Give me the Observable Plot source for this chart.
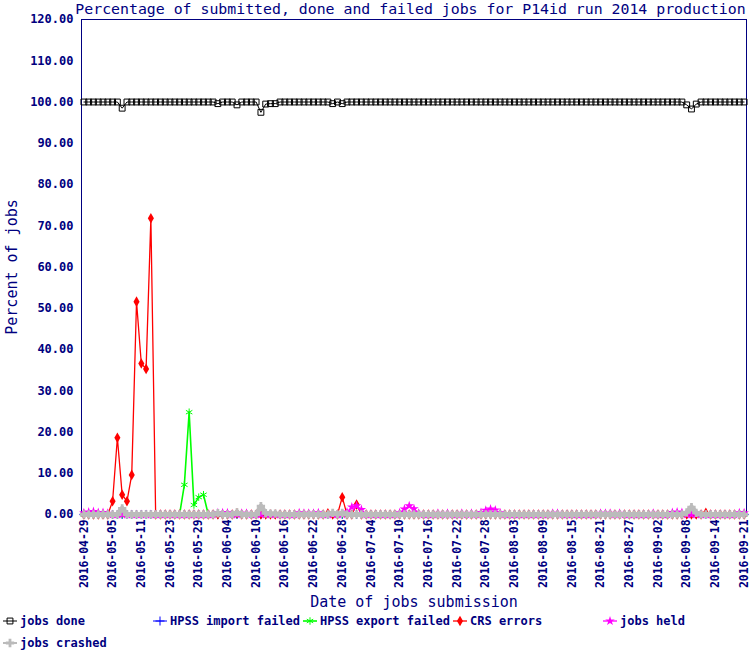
<!DOCTYPE html>
<html><head><meta charset="utf-8">
<script src="https://cdn.jsdelivr.net/npm/d3@7"></script>
<script src="https://cdn.jsdelivr.net/npm/@observablehq/plot@0.6"></script>
<style>
body{margin:0;background:#fff;font-family:"DejaVu Sans Mono",monospace;color:#000080;}
#wrap{width:750px;height:650px;position:relative;overflow:hidden;background:#fff}
#title{height:18px;line-height:18px;font-size:14.85px;margin-left:72px;width:677px;text-align:center;white-space:nowrap}
#legend{position:relative;height:40px}
.item{position:absolute;font-size:12px;font-weight:bold;line-height:22px;height:22px;white-space:nowrap;display:flex;align-items:center}
.item svg{margin-right:3px}
</style></head>
<body><div id="wrap"><div id="title">Percentage of submitted, done and failed jobs for P14id run 2014 production</div><div id="chart"></div><div id="legend"></div></div>
<script>
const tickIdx = [0,6,12,18,24,30,36,42,48,54,60,66,72,78,84,90,96,102,108,114,120,126,132,138];
const tickLabels = ["2016-04-29","2016-05-05","2016-05-11","2016-05-23","2016-05-29","2016-06-04","2016-06-10","2016-06-16","2016-06-22","2016-06-28","2016-07-04","2016-07-10","2016-07-16","2016-07-22","2016-07-28","2016-08-03","2016-08-09","2016-08-15","2016-08-21","2016-08-27","2016-09-02","2016-09-08","2016-09-14","2016-09-21"];
const yTicks = [0,10,20,30,40,50,60,70,80,90,100,110,120];

const jobsDone = [
100,100,100,100,100,100,100,100,98.5,100,
100,100,100,100,100,100,100,100,100,100,
100,100,100,100,100,100,100,100,99.6,100,
100,100,99.3,100,100,100,100,97.5,99.5,99.6,
99.6,100,100,100,100,100,100,100,100,100,
100,100,99.6,100,99.6,100,100,100,100,100,
100,100,100,100,100,100,100,100,100,100,
100,100,100,100,100,100,100,100,100,100,
100,100,100,100,100,100,100,100,100,100,
100,100,100,100,100,100,100,100,100,100,
100,100,100,100,100,100,100,100,100,100,
100,100,100,100,100,100,100,100,100,100,
100,100,100,100,100,100,99.3,98.3,99.5,100,
100,100,100,100,100,100,100,100,100];
const hpssImport = [
0,0,0,0,0,0,0,0,0,0, 0,0,0,0,0,0,0,0,0,0,
0,0,0,0,0,0,0,0,0,0, 0,0,0,0,0,0,0,0,0,0,
0,0,0,0,0,0,0,0,0,0, 0,0,0,0,0,0,0,0,0,0,
0,0,0,0,0,0,0,0,0,0, 0,0,0,0,0,0,0,0,0,0,
0,0,0,0,0,0,0,0,0,0, 0,0,0,0,0,0,0,0,0,0,
0,0,0,0,0,0,0,0,0,0, 0,0,0,0,0,0,0,0,0,0,
0,0,0,0,0,0,0,0,0,0, 0,0,0,0,0,0,0,0,0];
const hpssExport = [
0,0,0,0,0,0,0,0,0,0, 0,0,0,0,0,0,0,0,0,0,
0,7.2,24.8,2.3,4.2,4.8,0,0,0,0, 0,0,0,0,0,0,0,0,0,0,
0,0,0,0,0,0,0,0,0,0, 0,0,0,0,0,0,0,0,0,0,
0,0,0,0,0,0,0,0,0,0, 0,0,0,0,0,0,0,0,0,0,
0,0,0,0,0,0,0,0,0,0, 0,0,0,0,0,0,0,0,0,0,
0,0,0,0,0,0,0,0,0,0, 0,0,0,0,0,0,0,0,0,0,
0,0,0,0,0,0,0,0,0,0, 0,0,0,0,0,0,0,0,0];
const crsErrors = [
0,0,0,0,0,0,3.2,18.6,4.8,3.2, 9.6,51.6,36.6,35.3,71.8,0,0,0,0,0,
0,0,0,0,0,0,0,0,0,0, 0,0,0.3,0,0,0,0,0,0,0,
0,0,0,0,0,0,0,0,0,0, 0,0.3,0,0,4.2,0,0,2.4,0,0,
0,0,0,0,0,0,0,0,0,0, 0,0,0,0,0,0,0,0,0,0,
0,0,0,0,0,0,0,0,0,0, 0,0,0,0,0,0,0,0,0,0,
0,0,0,0,0,0,0,0,0,0, 0,0,0,0,0,0,0,0,0,0,
0,0,0,0,0,0,0,0,0,0, 0.4,0,0,0,0,0,0,0,0];
const jobsHeld = [
0.4,0.6,0.7,0.5,0.5,0.3,0,0,0,0, 0,0,0,0,0,0,0,0,0,0,
0,0,0,0,0,0,0,0,0.4,0.4, 0.4,0,0,0.3,0.3,0,0,0,0,0,
0,0,0,0,0,0.4,0.3,0.3,0.3,0.4, 0,0,0,0,0,0.6,1.8,2.1,1.2,0,
0,0,0,0,0,0,0.4,1.3,2.1,1.4, 0.3,0,0,0,0.3,0,0.3,0,0,0.3,
0,0.3,0,0.5,1.0,1.3,1.1,0.4,0,0, 0,0,0,0,0,0,0,0,0.3,0.3,
0,0,0,0,0,0,0,0,0.3,0.3, 0.3,0,0.3,0,0,0,0,0,0,0.3,
0,0,0,0.5,0.6,0.5,0,0,0,0, 0,0,0,0,0,0,0,0.4,0.4];
const jobsCrashed = [
0,0,0,0,0,0,0,0,1.5,0, 0,0,0,0,0,0,0,0,0,0,
0,0,0,0,0,0,0,0,0.3,0, 0,0,0.5,0,0,0,0,2.0,0.3,0.2,
0.2,0,0,0,0,0,0,0,0,0, 0,0,0.4,0,0.4,0,0,0,0,0,
0,0,0,0,0,0,0,0,0,0, 0,0,0,0,0,0,0,0,0,0,
0,0,0,0,0,0,0,0,0,0, 0,0,0,0,0,0,0,0,0,0,
0,0,0,0,0,0,0,0,0,0, 0,0,0,0,0,0,0,0,0,0,
0,0,0,0,0,0,0.5,1.8,0.4,0, 0,0,0,0,0,0,0,0,0];

const NAVY = "#000080";
const series = [
  {name: "jobs done", data: jobsDone, color: "#000000", symbol: "square", fill: "none", r: 3.3, sw: 1, lw: 1},
  {name: "HPSS import failed", data: hpssImport, color: "#0000ff", symbol: "plus", fill: "none", r: 3, sw: 1, lw: 1},
  {name: "HPSS export failed", data: hpssExport, color: "#00ff00", symbol: "asterisk", fill: "none", r: 3.5, sw: 1, lw: 1.6},
  {name: "CRS errors", data: crsErrors, color: "#ff0000", symbol: "diamond", fill: "#ff0000", r: 3.2, sw: 0, lw: 1.3},
  {name: "jobs held", data: jobsHeld, color: "#ff00ff", symbol: "star", fill: "#ff00ff", r: 3, sw: 0, lw: 1.3},
  {name: "jobs crashed", data: jobsCrashed, color: "#bbbbbb", symbol: "cross", fill: "#bbbbbb", r: 3.5, sw: 0, lw: 5}
];

const marks = [Plot.frame({stroke: NAVY})];
for (const s of series) {
  marks.push(Plot.line(s.data, {x: (d, i) => i, y: d => d, stroke: s.color, strokeWidth: s.lw, curve: "linear"}));
  marks.push(Plot.dot(s.data, {x: (d, i) => i, y: d => d, symbol: s.symbol, r: s.r,
    stroke: s.fill === "none" ? s.color : "none", fill: s.fill, strokeWidth: s.sw || 1}));
}
marks.push(
  Plot.axisY({ticks: yTicks, tickFormat: d => d.toFixed(2), tickSize: 0, tickPadding: 8, fontSize: 12, fontWeight: "bold", fill: NAVY, label: null}),
  Plot.axisY({ticks: [], tickSize: 0, label: "Percent of jobs", labelAnchor: "center", labelArrow: "none", labelOffset: 75, fontSize: 15, fill: NAVY}),
  Plot.axisX({ticks: tickIdx, tickFormat: d => tickLabels[tickIdx.indexOf(d)], tickRotate: -90, textAnchor: "end", tickSize: 0, tickPadding: 5, fontSize: 11.4, fontWeight: "bold", fill: NAVY, label: null}),
  Plot.axisX({ticks: [], tickSize: 0, label: "Date of jobs submission", labelAnchor: "center", labelArrow: "none", labelOffset: 92, fontSize: 15, fill: NAVY})
);

const chart = Plot.plot({
  width: 750, height: 592,
  marginTop: 1, marginBottom: 96, marginLeft: 81, marginRight: 4,
  x: {type: "linear", domain: [-0.5, 138.5]},
  y: {domain: [0, 120]},
  style: {fontFamily: "DejaVu Sans Mono", overflow: "visible", background: "white"},
  marks
});
document.getElementById("chart").appendChild(chart);

// legend
const legend = document.getElementById("legend");
const symMap = {square: d3.symbolSquare, plus: d3.symbolPlus, asterisk: d3.symbolAsterisk, diamond: d3.symbolDiamond, star: d3.symbolStar, cross: d3.symbolCross};
series.forEach((s, k) => {
  const row = k < 5 ? 0 : 1, col = k < 5 ? k : 0;
  const item = document.createElement("div");
  item.className = "item";
  item.style.left = (col * 150 + 3) + "px";
  item.style.top = (row * 22) + "px";
  const path = d3.symbol(symMap[s.symbol], Math.PI * s.r * s.r)();
  const ns = "http://www.w3.org/2000/svg";
  const svg = document.createElementNS(ns, "svg");
  svg.setAttribute("width", 14); svg.setAttribute("height", 14);
  svg.innerHTML = `<line x1="0" x2="14" y1="7" y2="7" stroke="${s.color}" stroke-width="${Math.min(s.lw, 2)}"/>` +
    `<path transform="translate(7,7)" d="${path}" fill="${s.fill === 'none' ? 'none' : s.fill}" stroke="${s.fill === 'none' ? s.color : 'none'}" stroke-width="1"/>`;
  item.appendChild(svg);
  const t = document.createElement("span");
  t.textContent = s.name;
  item.appendChild(t);
  legend.appendChild(item);
});
</script>
</body></html>
